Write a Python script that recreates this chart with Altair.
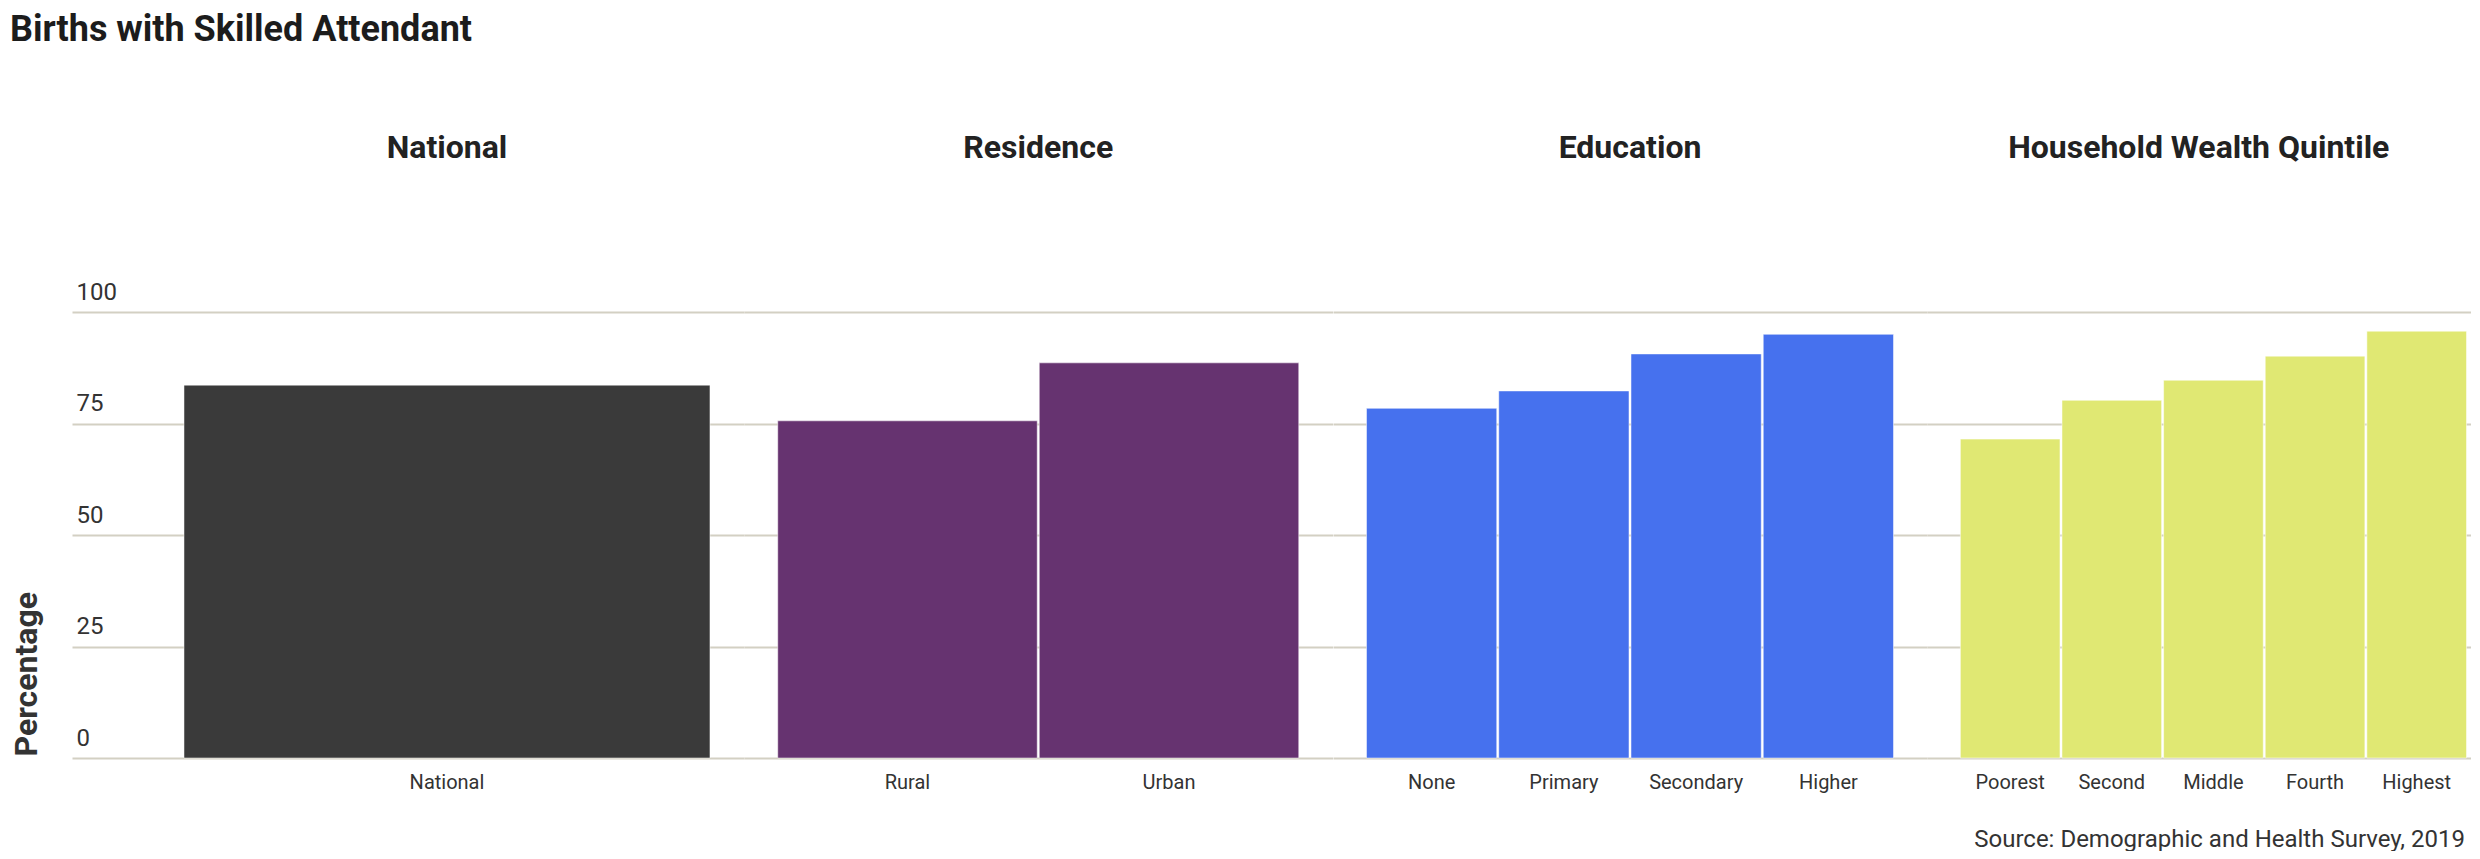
import altair as alt
import pandas as pd

title_text = "Births with Skilled Attendant"
y_title = "Percentage"
source_text = "Source: Demographic and Health Survey, 2019"

group_names = ["National", "Residence", "Education", "Household Wealth Quintile"]
group_colors = ["#3a3a3a", "#663370", "#4671ee", "#e0e873"]

national_cats = ["National"]
national_vals = [83.6]
residence_cats = ["Rural", "Urban"]
residence_vals = [75.6, 88.6]
education_cats = ["None", "Primary", "Secondary", "Higher"]
education_vals = [78.4, 82.3, 90.6, 95.0]
wealth_cats = ["Poorest", "Second", "Middle", "Fourth", "Highest"]
wealth_vals = [71.5, 80.2, 84.7, 90.1, 95.7]

y_ticks = [0, 25, 50, 75, 100]

GRID = "#d3d0c3"
TXT = "#333333"
FONT = "Roboto"
PLOT_H = 446


def panel(cats, vals, name, color, width, pin, pout, align, first=False, last=False,
          title_dx=0, title_offset=122):
    df = pd.DataFrame({"category": cats, "value": vals})
    x_kw = dict(
        labelAngle=0, labelFont=FONT, labelFontSize=20, labelColor=TXT,
        labelPadding=14, ticks=False, tickSize=0, domain=False, grid=False,
    )
    if last:
        x_axis = alt.Axis(
            title=source_text, titleFont=FONT, titleFontSize=24, titleFontWeight="normal",
            titleColor=TXT, titleAlign="right", titleBaseline="alphabetic", titleAngle=0,
            titleX=width - 6, titleY=88, **x_kw)
    else:
        x_axis = alt.Axis(title=None, **x_kw)
    if first:
        y_axis = alt.Axis(
            values=y_ticks, title=y_title, titleFont=FONT, titleFontSize=32,
            titleFontWeight="bold", titleColor=TXT, titleAngle=270, titleAlign="left",
            titleBaseline="top", titleX=-61, titleY=444,
            labelAlign="left", labelBaseline="alphabetic", labelPadding=-4, labelOffset=-13,
            labelFont=FONT, labelFontSize=24, labelColor=TXT,
            ticks=False, tickSize=0, domain=False, grid=True, gridColor=GRID, gridWidth=2)
    else:
        y_axis = alt.Axis(values=y_ticks, labels=False, title=None, ticks=False, tickSize=0,
                          domain=False, grid=True, gridColor=GRID, gridWidth=2)
    return alt.Chart(df).mark_bar(
        color=color, stroke="white", strokeWidth=1, strokeOpacity=0.5
    ).encode(
        x=alt.X("category:N", sort=cats, axis=x_axis,
                scale=alt.Scale(paddingInner=pin, paddingOuter=pout, align=align)),
        y=alt.Y("value:Q", axis=y_axis, scale=alt.Scale(domain=[0, 100], nice=False)),
    ).properties(
        width=width, height=PLOT_H,
        title=alt.TitleParams(name, font=FONT, fontSize=32, fontWeight="bold", color="#222222",
                              anchor="middle", frame="group", offset=title_offset,
                              baseline="alphabetic", dx=title_dx),
    )


p1 = panel(national_cats, national_vals, group_names[0], group_colors[0],
           672, 0.0, 0.1388, 0.767, first=True, title_dx=39, title_offset=90)
p2 = panel(residence_cats, residence_vals, group_names[1], group_colors[1],
           588.5, 0.0077, 0.129, 0.5)
p3 = panel(education_cats, education_vals, group_names[2], group_colors[2],
           594, 0.0151, 0.2533, 0.5)
p4 = panel(wealth_cats, wealth_vals, group_names[3], group_colors[3],
           543.5, 0.0196, 0.1838, 0.893, last=True)

chart = alt.hconcat(p1, p2, p3, p4, spacing=0).properties(
    title=alt.TitleParams(title_text, anchor="start", font=FONT, fontSize=36,
                          fontWeight="bold", color="#1c1c1c", offset=83, baseline="top"),
    padding={"left": 2, "right": 0, "top": 4, "bottom": 0},
).configure_view(strokeWidth=0)

chart.save("out.html", embed_options={"renderer": "svg", "actions": False})
